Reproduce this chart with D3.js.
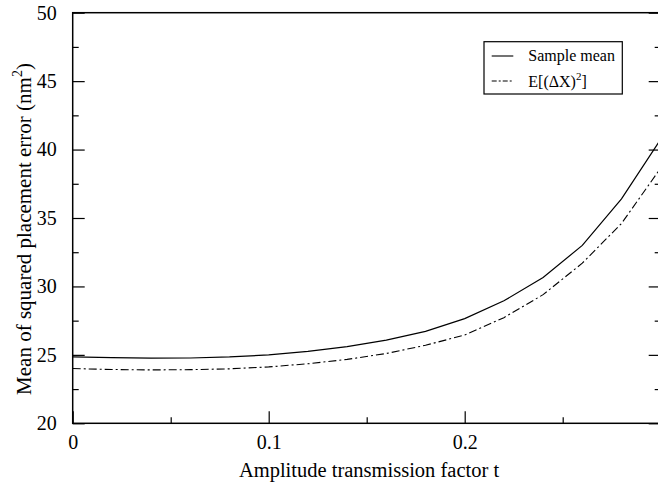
<!DOCTYPE html>
<html>
<head>
<meta charset="utf-8">
<script src="https://cdn.jsdelivr.net/npm/d3@7"></script>
<style>
  html, body { margin: 0; padding: 0; background: #fff; }
  svg { display: block; }
  text { font-family: "Liberation Serif", "DejaVu Serif", serif; fill: #000; }
</style>
</head>
<body>
<svg id="chart" width="658" height="485"></svg>
<script>
// Amplitude transmission factor t (sampled every 0.02)
const tValues = [0, 0.02, 0.04, 0.06, 0.08, 0.10, 0.12, 0.14, 0.16, 0.18, 0.20, 0.22, 0.24, 0.26, 0.28, 0.30];
// Sample mean of squared placement error (nm^2)
const sampleMean = [24.85, 24.80, 24.76, 24.77, 24.85, 25.00, 25.25, 25.60, 26.08, 26.72, 27.65, 28.95, 30.65, 33.00, 36.40, 40.75];
// Expected value E[(ΔX)^2] (nm^2)
const expected = [24.00, 23.93, 23.90, 23.92, 23.98, 24.12, 24.35, 24.67, 25.10, 25.70, 26.45, 27.72, 29.40, 31.70, 34.60, 38.65];

const xMajorTicks = [0, 0.1, 0.2];
const xTickLabels = ["0", "0.1", "0.2"];
const xMinorTicks = [0.05, 0.15, 0.25];
const yMajorTicks = [20, 25, 30, 35, 40, 45, 50];
const yMinorTicks = [22.5, 27.5, 32.5, 37.5, 42.5, 47.5];

const seriesNames = ["Sample mean", "E[(ΔX)²]"];

const svg = d3.select("#chart");
const plotLeft = 72.7, plotRight = 660.7, plotTop = 12.7, plotBottom = 423.3;

const x = d3.scaleLinear().domain([0, 0.3]).range([plotLeft, plotRight]);
const y = d3.scaleLinear().domain([20, 50]).range([plotBottom, plotTop]);

const majorLen = 12, minorLen = 6;
const tickFont = 20;

// Bottom axis: inward ticks, labels below
const bottomAxis = d3.axisBottom(x)
  .tickValues(xMajorTicks)
  .tickSizeInner(-majorLen).tickSizeOuter(0)
  .tickPadding(12)
  .tickFormat((d, i) => xTickLabels[i]);
const gb = svg.append("g").attr("transform", `translate(0,${plotBottom})`).call(bottomAxis);
gb.select(".domain").remove();
gb.selectAll("text").attr("font-family", "Liberation Serif").attr("font-size", tickFont).attr("fill", "#000");
gb.selectAll("line").attr("stroke", "#000").attr("stroke-width", 1.2);

const bottomMinor = d3.axisBottom(x).tickValues(xMinorTicks).tickSize(-minorLen).tickFormat("");
const gbm = svg.append("g").attr("transform", `translate(0,${plotBottom})`).call(bottomMinor);
gbm.select(".domain").remove();
gbm.selectAll("line").attr("stroke", "#000").attr("stroke-width", 1.2);

// Left axis: inward ticks, labels to the left
const leftAxis = d3.axisLeft(y)
  .tickValues(yMajorTicks)
  .tickSizeInner(-majorLen).tickSizeOuter(0)
  .tickPadding(16)
  .tickFormat(d3.format("d"));
const gl = svg.append("g").attr("transform", `translate(${plotLeft},0)`).call(leftAxis);
gl.select(".domain").remove();
gl.selectAll("text").attr("font-family", "Liberation Serif").attr("font-size", tickFont).attr("fill", "#000");
gl.selectAll("line").attr("stroke", "#000").attr("stroke-width", 1.2);

const leftMinor = d3.axisLeft(y).tickValues(yMinorTicks).tickSize(-minorLen).tickFormat("");
const glm = svg.append("g").attr("transform", `translate(${plotLeft},0)`).call(leftMinor);
glm.select(".domain").remove();
glm.selectAll("line").attr("stroke", "#000").attr("stroke-width", 1.2);

// Right axis: mirrored inward ticks, no labels
const rightAxis = d3.axisRight(y).tickValues(yMajorTicks).tickSize(-majorLen).tickFormat("");
const gr = svg.append("g").attr("transform", `translate(${plotRight},0)`).call(rightAxis);
gr.select(".domain").remove();
gr.selectAll("line").attr("stroke", "#000").attr("stroke-width", 1.2);
const rightMinor = d3.axisRight(y).tickValues(yMinorTicks).tickSize(-minorLen).tickFormat("");
const grm = svg.append("g").attr("transform", `translate(${plotRight},0)`).call(rightMinor);
grm.select(".domain").remove();
grm.selectAll("line").attr("stroke", "#000").attr("stroke-width", 1.2);

// Frame
svg.append("rect")
  .attr("x", plotLeft).attr("y", plotTop)
  .attr("width", plotRight - plotLeft).attr("height", plotBottom - plotTop)
  .attr("fill", "none").attr("stroke", "#000").attr("stroke-width", 1.5);

// Curves
const line = d3.line().x(d => x(d[0])).y(d => y(d[1]));
const plot = svg.append("g");
plot.append("path")
  .datum(tValues.map((t, i) => [t, sampleMean[i]]))
  .attr("d", line)
  .attr("fill", "none").attr("stroke", "#000").attr("stroke-width", 1.2);
plot.append("path")
  .datum(tValues.map((t, i) => [t, expected[i]]))
  .attr("d", line)
  .attr("fill", "none").attr("stroke", "#000").attr("stroke-width", 1.1)
  .attr("stroke-dasharray", "8,3,2,3");

// Axis titles
svg.append("text")
  .attr("x", 369).attr("y", 477)
  .attr("text-anchor", "middle")
  .attr("font-size", 20.5)
  .text("Amplitude transmission factor t");

const yTitle = svg.append("text")
  .attr("transform", "translate(31,229) rotate(-90)")
  .attr("text-anchor", "middle")
  .attr("font-size", 21);
yTitle.append("tspan").text("Mean of squared placement error (nm");
yTitle.append("tspan").attr("dy", -9).attr("font-size", 14).text("2");
yTitle.append("tspan").attr("dy", 9).text(")");

// Legend
const legend = svg.append("g");
legend.append("rect")
  .attr("x", 484).attr("y", 41.7).attr("width", 138.3).attr("height", 52.3)
  .attr("fill", "#fff").attr("stroke", "#000").attr("stroke-width", 1.2);
const legendRows = [
  { dash: null, ly: 56 },
  { dash: "5,2,2,2", ly: 81 }
];
legendRows.forEach(r => {
  legend.append("line")
    .attr("x1", 491.7).attr("x2", 513.3).attr("y1", r.ly).attr("y2", r.ly)
    .attr("stroke", "#000").attr("stroke-width", 1.1)
    .attr("stroke-dasharray", r.dash);
});
legend.append("text").attr("x", 528.3).attr("y", 61).attr("font-size", 16).text(seriesNames[0]);
const l2 = legend.append("text").attr("x", 528.3).attr("y", 87).attr("font-size", 16);
l2.append("tspan").text("E[(ΔX)");
l2.append("tspan").attr("dy", -7).attr("font-size", 11).text("2");
l2.append("tspan").attr("dy", 7).text("]");
</script>
</body>
</html>
